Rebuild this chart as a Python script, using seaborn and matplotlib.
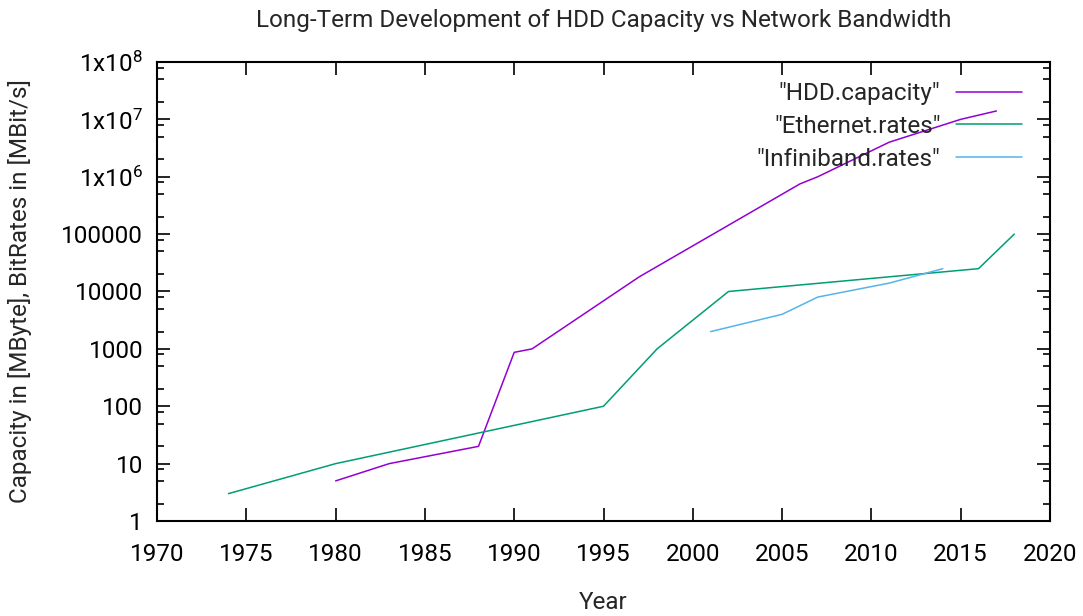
import numpy as np
import pandas as pd
import seaborn as sns
import matplotlib.pyplot as plt
from matplotlib.ticker import LogLocator, FixedLocator, FuncFormatter, NullLocator

# data
hdd_years = [1980, 1983, 1988, 1990, 1991, 1997, 2006, 2007, 2011, 2015, 2017]
hdd_capacity = [5, 10, 20, 870, 1000, 18000, 750000, 1000000, 4000000, 10000000, 14000000]

eth_years = [1974, 1980, 1995, 1998, 2002, 2016, 2018]
eth_rates = [3, 10, 100, 1000, 10000, 25000, 100000]

ib_years = [2001, 2005, 2007, 2011, 2014]
ib_rates = [2000, 4000, 8000, 14000, 25000]

series_names = ['"HDD.capacity"', '"Ethernet.rates"', '"Infiniband.rates"']
colors = ['#9400d3', '#009e73', '#56b4e9']

df = pd.concat([
    pd.DataFrame({'year': hdd_years, 'value': hdd_capacity, 'series': series_names[0]}),
    pd.DataFrame({'year': eth_years, 'value': eth_rates, 'series': series_names[1]}),
    pd.DataFrame({'year': ib_years, 'value': ib_rates, 'series': series_names[2]}),
])

sns.set_style('ticks')
plt.rcParams['font.family'] = ['Roboto', 'DejaVu Sans']
plt.rcParams['mathtext.fontset'] = 'custom'
plt.rcParams['mathtext.rm'] = 'Roboto'
fs = 17.5

fig, ax = plt.subplots(figsize=(10.83, 6.16), dpi=100)
fig.subplots_adjust(left=0.145, right=0.9695, top=0.8994, bottom=0.1542)

sns.lineplot(data=df, x='year', y='value', hue='series', palette=colors,
             estimator=None, sort=False, linewidth=1.1, ax=ax)

ax.set_yscale('log')
ax.set_xlim(1970, 2020)
ax.set_ylim(1, 1e8)

ax.xaxis.set_major_locator(FixedLocator(np.arange(1970, 2021, 5)))
ax.xaxis.set_minor_locator(NullLocator())
ax.yaxis.set_major_locator(LogLocator(base=10, numticks=20))
ax.yaxis.set_minor_locator(LogLocator(base=10, subs=[2, 5, 8], numticks=20))


def ylab(v, pos):
    if v >= 1e6:
        return r'$\mathregular{1x10^{%d}}$' % round(np.log10(v))
    return '%d' % v


ax.yaxis.set_major_formatter(FuncFormatter(ylab))

ax.tick_params(which='both', direction='in', top=True, right=True,
               labelsize=fs, width=1.2, color='black', labelcolor='black')
ax.tick_params(which='major', length=9.5)
ax.tick_params(axis='x', which='major', pad=16)
ax.tick_params(axis='y', which='major', pad=10)
ax.tick_params(which='minor', length=5)
for s in ax.spines.values():
    s.set_visible(True)
    s.set_linewidth(1.5)
    s.set_color('black')

ax.set_title('Long-Term Development of HDD Capacity vs Network Bandwidth',
             fontsize=fs, pad=25)
ax.set_xlabel('Year', fontsize=fs, labelpad=18)
ax.set_ylabel('Capacity in [MByte], BitRates in [MBit/s]', fontsize=fs, labelpad=21)

handles, labels = ax.get_legend_handles_labels()
ax.legend(handles, labels, loc='upper right', bbox_to_anchor=(0.9944, 1.0065),
          frameon=False, fontsize=fs,
          markerfirst=False, handlelength=2.7, handletextpad=0.65,
          labelspacing=0.4, borderaxespad=0.55)

fig.savefig('out.png', dpi=100)
